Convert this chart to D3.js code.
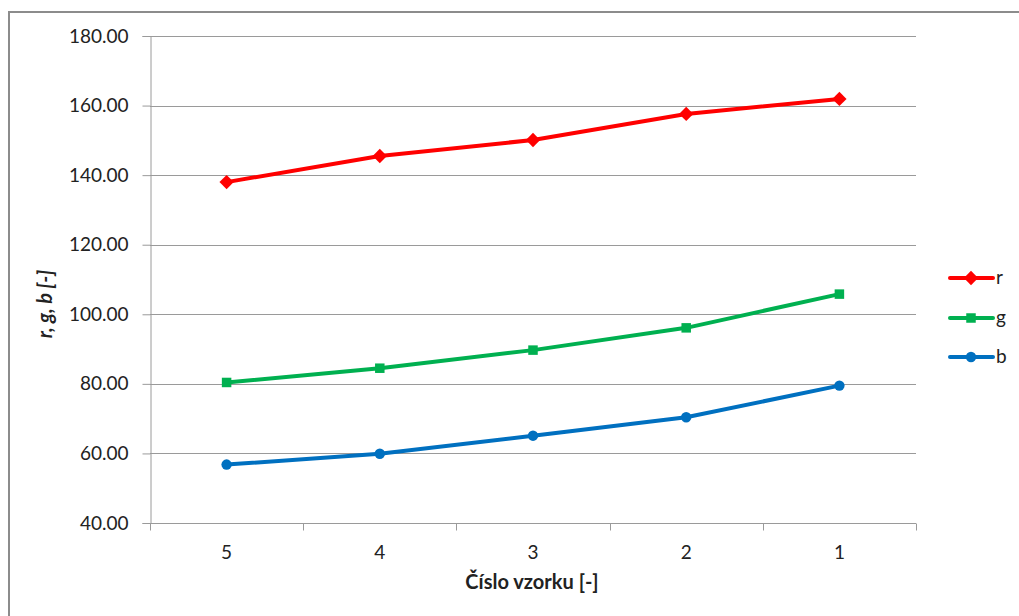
<!DOCTYPE html>
<html>
<head>
<meta charset="utf-8">
<script src="https://cdn.jsdelivr.net/npm/d3@7"></script>
<style>
  html, body { margin: 0; padding: 0; background: #fff; }
  svg text { font-family: Lato, "Open Sans", "Liberation Sans", sans-serif; fill: #222; }
</style>
</head>
<body>
<svg id="chart" width="1019" height="616"></svg>
<script>
// Sample numbers (x axis, ordered as shown)
const categories = ["5", "4", "3", "2", "1"];
// Mean channel values per sample
const rValues = [138.0, 145.5, 150.1, 157.6, 161.9];
const gValues = [80.4, 84.5, 89.7, 96.1, 105.8];
const bValues = [56.8, 59.9, 65.1, 70.4, 79.5];
const yTicks = [40, 60, 80, 100, 120, 140, 160, 180];
const seriesNames = ["r", "g", "b"];

const series = [
  { name: seriesNames[0], values: rValues, color: "#FF0000", marker: "diamond" },
  { name: seriesNames[1], values: gValues, color: "#00B050", marker: "square" },
  { name: seriesNames[2], values: bValues, color: "#0070C0", marker: "circle" }
];

const FS = 19;
const TITLE_FS = 20;
const svg = d3.select("#chart");
const plot = { left: 150, right: 916, top: 36, bottom: 523 };

// chart frame
svg.append("rect")
  .attr("x", 9).attr("y", 12)
  .attr("width", 1019 - 9 + 5).attr("height", 616 - 12 + 5)
  .attr("fill", "#fff").attr("stroke", "#8c8c8c").attr("stroke-width", 2);

const x = d3.scaleBand().domain(categories).range([plot.left, plot.right]).padding(0);
const y = d3.scaleLinear().domain([40, 180]).range([plot.bottom, plot.top]);

// horizontal gridlines
svg.append("g").selectAll("line").data(yTicks.filter(t => t > 40)).join("line")
  .attr("x1", plot.left).attr("x2", plot.right)
  .attr("y1", d => Math.round(y(d)) + 0.5).attr("y2", d => Math.round(y(d)) + 0.5)
  .attr("stroke", "#9a9a9a").attr("stroke-width", 1);

// y axis
const yAxis = svg.append("g")
  .attr("transform", `translate(${plot.left + 0.5},0)`)
  .call(d3.axisLeft(y).tickValues(yTicks).tickFormat(d3.format(".2f")).tickSize(8).tickPadding(14));
yAxis.select(".domain").attr("stroke", "#9a9a9a");
yAxis.selectAll(".tick line").attr("stroke", "#9a9a9a");
yAxis.selectAll(".tick text").attr("font-size", FS).attr("fill", "#222")
  .attr("font-family", "Lato, 'Open Sans', sans-serif");

// x axis with ticks at band boundaries
const xAxisG = svg.append("g").attr("transform", `translate(0,${plot.bottom + 0.5})`);
xAxisG.append("line").attr("x1", plot.left).attr("x2", plot.right)
  .attr("stroke", "#9a9a9a");
const bounds = categories.map(c => x(c)).concat([x(categories[categories.length - 1]) + x.bandwidth()]);
xAxisG.selectAll("line.tk").data(bounds).join("line").attr("class", "tk")
  .attr("x1", d => Math.round(d) + 0.5).attr("x2", d => Math.round(d) + 0.5)
  .attr("y1", 0).attr("y2", 7).attr("stroke", "#9a9a9a");
xAxisG.selectAll("text").data(categories).join("text")
  .attr("x", d => x(d) + x.bandwidth() / 2).attr("y", 35)
  .attr("text-anchor", "middle").attr("font-size", FS).text(d => d);

// axis titles
svg.append("text").attr("x", 532).attr("y", 589).attr("text-anchor", "middle")
  .attr("font-size", TITLE_FS).attr("font-weight", "bold").text("Číslo vzorku [-]");
svg.append("text").attr("transform", "translate(52,304) rotate(-90)")
  .attr("text-anchor", "middle").attr("font-size", TITLE_FS).attr("font-weight", "bold")
  .attr("font-style", "italic").text("r, g, b [-]");

// series lines and markers
const line = d3.line()
  .x((d, i) => x(categories[i]) + x.bandwidth() / 2)
  .y(d => y(d));

const symbolFor = {
  diamond: d3.symbol().type(d3.symbolDiamond2).size(130),
  square: d3.symbol().type(d3.symbolSquare2).size(115),
  circle: d3.symbol().type(d3.symbolCircle).size(85)
};

series.forEach(s => {
  const g = svg.append("g");
  g.append("path").datum(s.values).attr("d", line)
    .attr("fill", "none").attr("stroke", s.color).attr("stroke-width", 4)
    .attr("stroke-linejoin", "round").attr("stroke-linecap", "round");
  g.selectAll("path.m").data(s.values).join("path").attr("class", "m")
    .attr("transform", (d, i) => `translate(${x(categories[i]) + x.bandwidth() / 2},${y(d)})`)
    .attr("d", symbolFor[s.marker]())
    .attr("fill", s.color).attr("stroke", "none");
});

// legend
const legend = svg.append("g");
const legendY = [278, 318, 357];
series.forEach((s, i) => {
  const row = legend.append("g").attr("transform", `translate(0,${legendY[i]})`);
  row.append("line").attr("x1", 950).attr("x2", 993).attr("y1", 0).attr("y2", 0)
    .attr("stroke", s.color).attr("stroke-width", 4).attr("stroke-linecap", "round");
  row.append("path").attr("transform", "translate(971,0)")
    .attr("d", symbolFor[s.marker]()).attr("fill", s.color);
  row.append("text").attr("x", 996).attr("y", 6).attr("font-size", FS).text(s.name);
});
</script>
</body>
</html>
